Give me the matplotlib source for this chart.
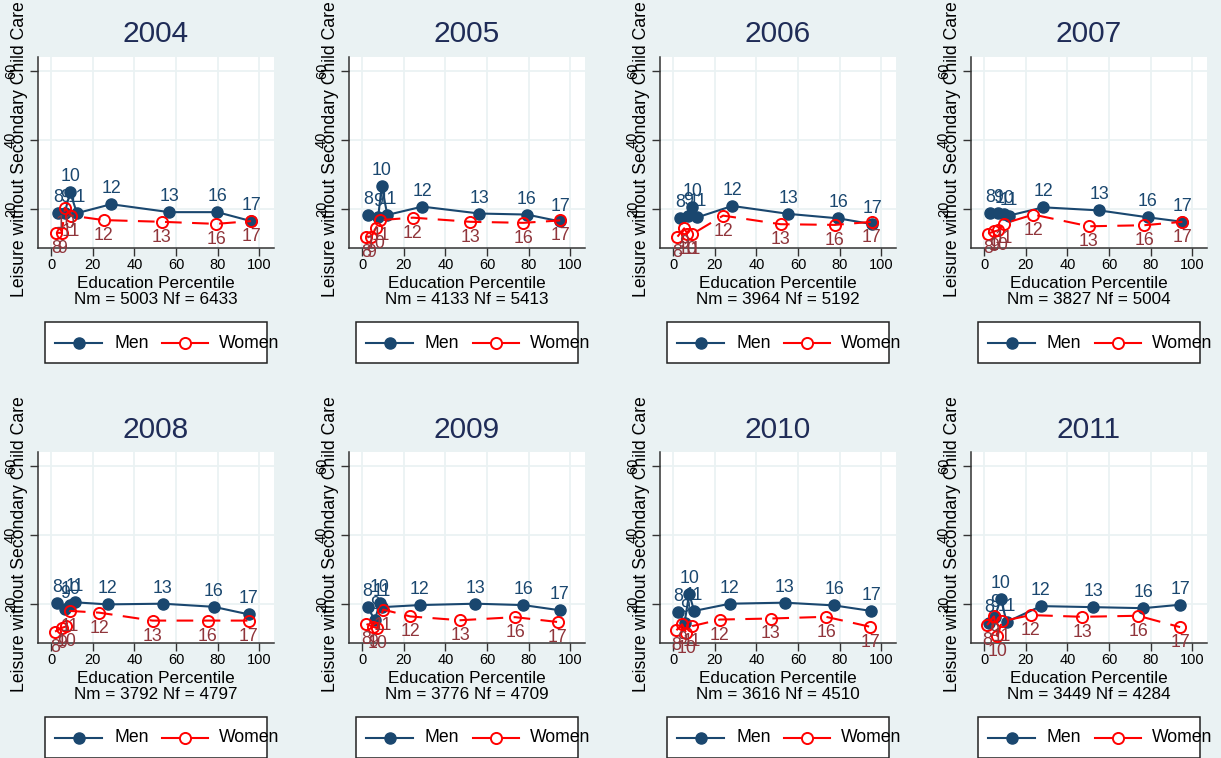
import matplotlib
matplotlib.use("Agg")
from matplotlib import pyplot as plt
from matplotlib.lines import Line2D
from matplotlib.patches import Rectangle

plt.rcParams['font.family'] = ['Liberation Sans', 'DejaVu Sans']

years = [2004, 2005, 2006, 2007, 2008, 2009, 2010, 2011]
educ = [8, 9, 10, 11, 12, 13, 16, 17]
n_men = [5003, 4133, 3964, 3827, 3792, 3776, 3616, 3449]
n_women = [6433, 5413, 5192, 5004, 4797, 4709, 4510, 4284]

# education percentile of each schooling group, one row per year
men_pct = [
    [3.5, 6.5, 9.1, 12.4, 28.8, 56.7, 79.8, 96.0],
    [2.9, 7.7, 9.4, 12.1, 28.9, 56.3, 79.1, 95.1],
    [3.2, 7.2, 9.1, 11.7, 28.4, 55.3, 79.3, 95.7],
    [2.7, 6.7, 9.6, 12.0, 28.4, 55.3, 78.6, 95.2],
    [2.7, 6.7, 9.1, 11.5, 27.1, 53.7, 78.0, 94.9],
    [2.6, 6.1, 8.5, 9.6, 27.6, 54.4, 77.3, 94.9],
    [2.4, 5.5, 7.7, 10.1, 27.3, 53.7, 77.3, 95.1],
    [2.4, 5.1, 8.0, 10.8, 27.3, 52.4, 76.4, 94.1],
]
men_leisure = [
    [18.7, 18.7, 24.8, 18.7, 21.3, 19.0, 19.0, 16.4],
    [18.1, 17.6, 26.6, 18.2, 20.6, 18.6, 18.3, 16.3],
    [17.2, 17.9, 20.6, 17.5, 20.8, 18.5, 17.2, 15.5],
    [18.8, 18.8, 18.5, 18.0, 20.4, 19.5, 17.5, 16.2],
    [20.1, 18.4, 19.6, 20.4, 19.8, 20.0, 19.1, 16.9],
    [19.1, 15.2, 20.3, 19.0, 19.6, 20.0, 19.6, 18.1],
    [17.7, 14.5, 22.9, 17.9, 20.0, 20.3, 19.5, 17.9],
    [14.4, 16.0, 21.5, 14.7, 19.3, 19.0, 18.7, 19.7],
]
women_pct = [
    [2.3, 5.1, 6.7, 9.6, 25.2, 53.0, 79.2, 96.0],
    [2.1, 4.5, 6.6, 8.8, 24.4, 51.9, 77.4, 95.1],
    [2.1, 5.3, 6.9, 9.1, 24.0, 51.6, 77.7, 95.4],
    [1.9, 4.8, 6.7, 9.6, 23.6, 50.3, 76.8, 95.2],
    [1.9, 5.1, 7.2, 9.1, 23.1, 48.7, 75.3, 94.9],
    [2.1, 5.3, 7.2, 10.1, 23.2, 47.1, 73.4, 93.8],
    [1.6, 4.3, 6.4, 9.1, 22.5, 46.8, 73.4, 94.6],
    [1.4, 4.7, 6.4, 8.6, 22.3, 47.1, 73.9, 94.1],
]
women_leisure = [
    [13.0, 13.0, 20.3, 18.0, 16.7, 16.2, 15.6, 16.4],
    [11.9, 11.9, 14.4, 16.7, 17.4, 16.2, 15.9, 16.6],
    [11.9, 14.3, 12.7, 12.6, 18.0, 15.5, 15.3, 16.2],
    [12.8, 13.4, 13.7, 15.7, 18.3, 14.9, 15.2, 16.2],
    [11.9, 13.0, 13.4, 17.9, 17.4, 15.1, 15.1, 15.1],
    [14.1, 13.3, 12.9, 18.3, 16.3, 15.2, 16.1, 14.7],
    [12.3, 14.0, 11.4, 13.5, 15.4, 15.7, 16.2, 13.3],
    [13.8, 16.3, 10.6, 14.9, 16.7, 16.2, 16.5, 13.2],
]

W, H = 1221, 758
BG = '#eaf2f3'
NAVY = '#1a476f'
RED = '#ff0000'
CRAN = '#90353b'


def fx(x):
    return x / W


def fy(y):
    return 1 - y / H


fig = plt.figure(figsize=(W / 100, H / 100), dpi=100, facecolor=BG)

for i, year in enumerate(years):
    col, row = i % 4, i // 4
    left = 38 + col * 311
    top = 57 + row * 395
    aw, ah = 236, 191
    ax = fig.add_axes([fx(left), fy(top + ah), aw / W, ah / H])
    ax.set_facecolor('white')
    for s in ['top', 'right']:
        ax.spines[s].set_visible(False)
    for s in ['left', 'bottom']:
        ax.spines[s].set_color('#333333')
        ax.spines[s].set_linewidth(1.1)
    ax.set_xlim(-6.3, 107)
    ax.set_ylim(8.6, 64)
    ax.set_xticks([0, 20, 40, 60, 80, 100])
    ax.set_yticks([20, 40, 60])
    ax.set_yticklabels(['20', '40', '60'], rotation=90, va='center')
    ax.tick_params(direction='out', length=5.5, width=1, color='#333333',
                   labelsize=10.5, pad=2)
    ax.tick_params(axis='y', pad=9)
    ax.grid(True, color=BG, lw=1.3)
    ax.set_axisbelow(True)

    ax.plot(men_pct[i], men_leisure[i], color=NAVY, lw=1.5, marker='o',
            ms=8, mfc=NAVY, mec=NAVY, zorder=3)
    ax.plot(women_pct[i], women_leisure[i], color=RED, lw=1.5,
            ls=(0, (8, 5)), marker='o', ms=8, mfc='none', mec=RED,
            mew=1.4, zorder=4)
    for e, x, y in zip(educ, men_pct[i], men_leisure[i]):
        ax.annotate(str(e), (x, y), xytext=(0, 5), textcoords='offset points',
                    ha='center', va='bottom', fontsize=12.8, color=NAVY,
                    zorder=5)
    for e, x, y in zip(educ, women_pct[i], women_leisure[i]):
        ax.annotate(str(e), (x, y), xytext=(0, -5), textcoords='offset points',
                    ha='center', va='top', fontsize=12.8, color=CRAN,
                    zorder=5)

    cx = left + aw / 2
    fig.text(fx(cx), fy(top - 22.5), str(year), ha='center', va='center',
             fontsize=21.5, color='#1f2c57')
    fig.text(fx(left - 18.5), fy(top + ah / 2 - 3),
             'Leisure without Secondary Child Care', rotation=90,
             ha='center', va='center', fontsize=12.7)
    fig.text(fx(cx), fy(top + 219), 'Education Percentile\nNm = %d Nf = %d'
             % (n_men[i], n_women[i]), ha='center', va='top', fontsize=12.3,
             linespacing=1.08)

    # legend box under each panel
    ly = top + 286
    fig.add_artist(Rectangle((fx(left + 7), fy(ly + 20)), 222 / W, 41 / H,
                             transform=fig.transFigure, facecolor='white',
                             edgecolor='#222222', lw=1.1))
    fig.add_artist(Line2D([fx(left + 17), fx(left + 64)], [fy(ly), fy(ly)],
                          transform=fig.transFigure, color=NAVY, lw=1.5))
    fig.add_artist(Line2D([fx(left + 41)], [fy(ly)], transform=fig.transFigure,
                          marker='o', ms=8, color=NAVY))
    fig.text(fx(left + 76), fy(ly), 'Men', ha='left', va='center',
             fontsize=12.7)
    fig.add_artist(Line2D([fx(left + 124), fx(left + 170)], [fy(ly), fy(ly)],
                          transform=fig.transFigure, color=RED, lw=1.5))
    fig.add_artist(Line2D([fx(left + 147)], [fy(ly)], transform=fig.transFigure,
                          marker='o', ms=8, mfc='white', mec=RED, mew=1.4))
    fig.text(fx(left + 181), fy(ly), 'Women', ha='left', va='center',
             fontsize=12.7)

fig.savefig('out.png', dpi=100, facecolor=BG)
